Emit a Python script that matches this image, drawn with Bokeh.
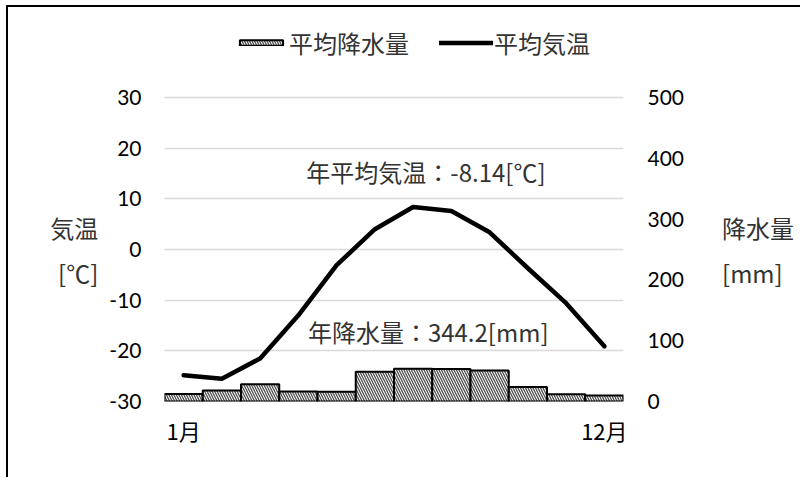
from bokeh.plotting import figure
from bokeh.models import (Range1d, LinearAxis, FixedTicker, NumeralTickFormatter,
                          Label, Legend, LegendItem)
from bokeh.embed import file_html
from bokeh.resources import INLINE

months = ["1月", "2月", "3月", "4月", "5月", "6月", "7月", "8月", "9月", "10月", "11月", "12月"]
month_no = [1, 2, 3, 4, 5, 6, 7, 8, 9, 10, 11, 12]
temperature = [-24.8, -25.5, -21.5, -13.0, -3.1, 4.0, 8.4, 7.6, 3.4, -3.7, -10.6, -19.1]
precipitation = [12.5, 18.0, 28.5, 16.5, 16.0, 49.0, 54.0, 53.5, 51.0, 24.0, 12.0, 9.7]
temp_ticks = [-30, -20, -10, 0, 10, 20, 30]
precip_ticks = [0, 100, 200, 300, 400, 500]
temp_label = "年平均気温：-8.14[℃]"
precip_label = "年降水量：344.2[mm]"
temp_axis_title = ["気温", "[℃]"]
precip_axis_title = ["降水量", "[mm]"]

JP = "Noto Sans CJK JP"
NUM = "Lato"
TXT = "#333333"

# layout (pixels): the frame reaches the top of the canvas so that the legend fits in it;
# the tick span (-30..30 / 0..500) covers GRID_H pixels at the bottom of the frame.
W, H = 794, 472
LEFT, RIGHT_EDGE, BOTTOM = 156, 615, 394
GRID_H = 304
scale = BOTTOM / GRID_H
t_lo, t_hi = temp_ticks[0], temp_ticks[-1]
p_lo, p_hi = precip_ticks[0], precip_ticks[-1]

p = figure(width=W, height=H, x_range=Range1d(0.5, 12.5),
           y_range=Range1d(t_lo, t_lo + (t_hi - t_lo) * scale), output_backend="svg",
           toolbar_location=None,
           min_border_left=LEFT, min_border_right=W - RIGHT_EDGE, min_border_top=0,
           min_border_bottom=H - BOTTOM)
p.extra_y_ranges = {"precip": Range1d(p_lo, p_lo + (p_hi - p_lo) * scale)}
p.outline_line_color = None
p.background_fill_color = "white"
p.border_fill_color = "white"
p.styles = {"border-left": "2px solid black", "border-top": "2px solid black",
            "margin-left": "6px", "margin-top": "5px"}

bars = p.vbar(x=month_no, top=precipitation, width=1.0, bottom=0, y_range_name="precip",
              fill_color="white", line_color="black", line_width=2,
              hatch_pattern="\\", hatch_color="#505050", hatch_scale=5, hatch_weight=1.3)
line = p.line(x=month_no, y=temperature, line_color="black", line_width=4.5,
              line_join="round", line_cap="round")

p.xgrid.grid_line_color = None
p.ygrid.grid_line_color = "#d9d9d9"
p.ygrid.grid_line_width = 1.5
p.ygrid.ticker = FixedTicker(ticks=temp_ticks)

# left axis (two empty leading lines push the title block down to the tick span's middle)
la = p.yaxis[0]
la.ticker = FixedTicker(ticks=temp_ticks)
la.formatter = NumeralTickFormatter(format="0")
la.axis_line_color = None
la.major_tick_line_color = None
la.minor_tick_line_color = None
la.major_label_standoff = 17
la.major_label_text_font = NUM
la.major_label_text_font_size = "21px"
la.major_label_text_color = "black"
la.axis_label = "\n\n" + "\n".join(temp_axis_title)
la.axis_label_orientation = "horizontal"
la.axis_label_standoff = 8
la.axis_label_text_font = JP
la.axis_label_text_font_size = "24px"
la.axis_label_text_font_style = "normal"
la.axis_label_text_color = TXT
la.axis_label_text_line_height = 1.3

# right axis
ra = LinearAxis(y_range_name="precip", ticker=FixedTicker(ticks=precip_ticks),
                formatter=NumeralTickFormatter(format="0"))
ra.axis_line_color = None
ra.major_tick_line_color = None
ra.minor_tick_line_color = None
ra.major_label_standoff = 18
ra.major_label_text_font = NUM
ra.major_label_text_font_size = "21px"
ra.major_label_text_color = "black"
ra.axis_label = "\n\n" + "\n".join(precip_axis_title)
ra.axis_label_orientation = "horizontal"
ra.axis_label_standoff = 35
ra.axis_label_text_font = JP
ra.axis_label_text_font_size = "24px"
ra.axis_label_text_font_style = "normal"
ra.axis_label_text_color = TXT
ra.axis_label_text_line_height = 1.3
p.add_layout(ra, "right")

# bottom axis: only first and last month are labelled
xa = p.xaxis[0]
xa.ticker = FixedTicker(ticks=[month_no[0], month_no[-1]])
xa.major_label_overrides = {month_no[0]: months[0], month_no[-1]: months[-1]}
xa.axis_line_color = None
xa.major_tick_line_color = None
xa.minor_tick_line_color = None
xa.major_label_standoff = 6
xa.major_label_text_font = JP
xa.major_label_text_font_size = "22px"
xa.major_label_text_color = "black"

def lab(text, x, y, align="right", size="24px"):
    p.add_layout(Label(x=x, y=y, x_units="screen", y_units="screen", text=text,
                       text_font=JP, text_font_size=size, text_color=TXT,
                       text_align=align, text_baseline="middle"))

lab(temp_label, 381, 230)
lab(precip_label, 384, 70)

legend = Legend(items=[LegendItem(label="平均降水量", renderers=[bars]),
                       LegendItem(label="平均気温", renderers=[line])],
                orientation="horizontal", location=(70, 341),
                glyph_width=54, glyph_height=7, label_standoff=1, spacing=30,
                padding=0, margin=0, border_line_color=None, background_fill_alpha=0,
                label_text_font=JP, label_text_font_size="24px", label_text_color=TXT)
p.add_layout(legend, "center")

open("out.html", "w").write(file_html(p, INLINE))
